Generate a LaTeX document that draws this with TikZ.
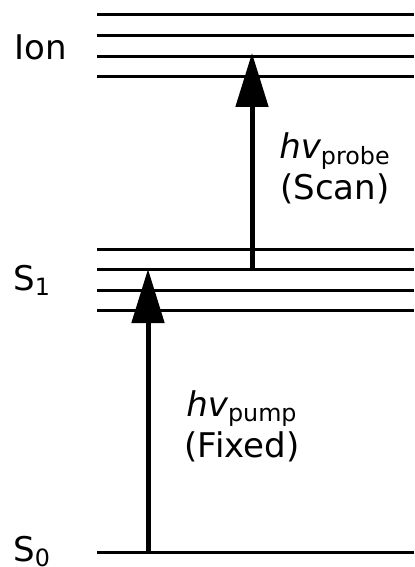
\documentclass[tikz,border=0pt]{standalone}
\usepackage{fontspec}
\setmainfont{DejaVu Sans}
\usetikzlibrary{arrows.meta, positioning}

\begin{document}
\begin{tikzpicture}[
    x=0.5pt, y=-0.5pt,
    font=\fontsize{17}{20.5}\selectfont,
    level/.style={line width=1.5pt},
    photon/.style={-{Triangle[length=27pt, width=16pt]}, line width=2.5pt},
    tag/.style={anchor=base west, inner sep=0pt},
    note/.style={align=center, inner sep=0pt}
]
\useasboundingbox (0,0) rectangle (414,567);

% energy levels
\foreach \y in {15,36,57,77} \draw[level] (97,\y) -- (414,\y);
\foreach \y in {249,269,290,310} \draw[level] (97,\y) -- (414,\y);
\draw[level] (97,552) -- (414,552);

\node[tag] (ion) at (14,60) {Ion};
\node[tag] (s1) at (13,290) {S\textsubscript{1}};
\node[tag] (s0) at (13,561) {S\textsubscript{0}};

% transitions
\coordinate (pumpfrom) at (148,552);
\coordinate (pumpto) at (148,269);
\coordinate (probefrom) at (252,269);
\coordinate (probeto) at (252,53);
\draw[photon] (pumpfrom) -- (pumpto);
\draw[photon] (probefrom) -- (probeto);

\node[note] (pump) at (242,426) {{\itshape hv}\textsubscript{pump}\\(Fixed)};
\node[note] (probe) at (335,168) {{\itshape hv}\textsubscript{probe}\\(Scan)};
\end{tikzpicture}
\end{document}
